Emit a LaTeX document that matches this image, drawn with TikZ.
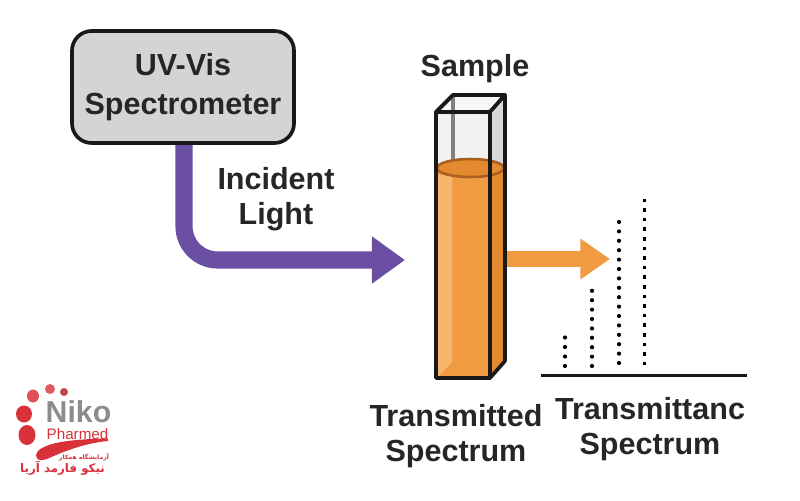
\documentclass[tikz,border=0pt]{standalone}
\usepackage{fontspec}
\setmainfont{Liberation Sans}
\newfontfamily\labelfont{Liberation Sans Bold}
\newfontfamily\arabicfont[Script=Arabic]{DejaVu Sans Bold}
\TeXXeTstate=1
\usetikzlibrary{arrows.meta}
\definecolor{boxgray}{HTML}{D4D4D4}
\definecolor{lightpurple}{HTML}{6A4FA3}
\definecolor{liquid}{HTML}{F09A42}
\definecolor{liquidlight}{HTML}{F7B66E}
\definecolor{liquiddark}{HTML}{E38A2E}
\definecolor{liquidedge}{HTML}{A85F20}
\definecolor{logored}{HTML}{D9313A}
\definecolor{logogray}{HTML}{8C8C8C}
\tikzset{
	caption/.style={font=\labelfont\fontsize{21.7}{25}\selectfont,align=center,text=black!85},
	logotext/.style={inner sep=0pt,text=logored},
	beam/.style={line width=12.2pt},
	glass/.style={line width=2.6pt,line join=round,draw=black!90}
}
\begin{document}
\begin{tikzpicture}[x=.025cm,y=-.025cm]
		\useasboundingbox (0,0) rectangle (800,500);
		\node[draw=black!90,fill=boxgray,line width=2.6pt,rounded corners=14pt,minimum width=5.55cm,minimum height=2.8cm,caption] (spectrometer) at (183,87) {UV-Vis\\[3pt]Spectrometer};
		\node[caption] (incident) at (276,199) {Incident\\Light};
		\node[caption] (sample) at (475,69) {Sample};
		\node[caption] (transmitted) at (456,436) {Transmitted\\Spectrum};
		\node[caption] (transmittance) at (650,429) {Transmittanc\\Spectrum};
		\coordinate (lightstart) at (184,145);
		\coordinate (lightend) at (405,260);
		\coordinate (outstart) at (507,259);
		\coordinate (outend) at (610,259);
		\coordinate (axisleft) at (541,375.5);
		\coordinate (axisright) at (747,375.5);
		\draw[beam,draw=lightpurple,-{Triangle[length=23.5pt,width=32pt]},rounded corners=24pt] (lightstart) |- (lightend);
		\draw[glass,fill=black!3] (436,112) -- (453,95) -- (505,95) -- (490,112) -- cycle;
		\fill[black!5] (436,112) rectangle (490,172);
		\fill[black!15] (490,112) -- (505,95) -- (505,170) -- (490,176) -- cycle;
		\draw[line width=2.4pt,black!50] (453,95) -- (453,162);
		\fill[liquid] (437,168) arc[start angle=180,end angle=360,x radius=33.5,y radius=-9] -- (505,361) -- (490,378) -- (437,378) -- cycle;
		\fill[liquiddark] (490,176) -- (505,168) -- (505,361) -- (490,378) -- cycle;
		\fill[liquidlight] (437,174) -- (452,177) -- (452,362) -- (437,378) -- cycle;
		\draw[draw=liquidedge,fill=liquiddark,line width=1.8pt] (470.5,168) ellipse [x radius=33.5,y radius=9];
		\draw[glass] (490,112) -- (490,378) (436,112) -- (490,112) -- (505,95) -- (505,361) -- (490,378) -- (436,378) -- (436,112) -- (453,95) -- (505,95);
		\draw[beam,line width=10.8pt,draw=liquid,-{Triangle[length=21pt,width=27.5pt]}] (outstart) -- (outend);
		\draw[line width=2.2pt,black!90] (axisleft) -- (axisright);
		\foreach \i in {0,...,3} \fill (565,{366-\i*9.5}) circle (2.1);
		\foreach \i in {0,...,8} \fill (592,{366-\i*9.4}) circle (2.1);
		\foreach \i in {0,...,15} \fill (619,{363-\i*9.4}) circle (2.1);
		\foreach \i in {0,...,17} \fill (642.5,{363.5-\i*9.6-1.8}) rectangle ++(3.6,3.6);
		% logo
		\fill[logored] (24,414) ellipse [x radius=8,y radius=8.5];
		\fill[logored] (27,435) ellipse [x radius=8.5,y radius=10];
		\fill[logored!85!white] (33,396) ellipse [x radius=6,y radius=6.5];
		\fill[logored!80!white] (50,389) circle (5);
		\fill[logored!70!gray] (64,392) circle (4);
		\node[logotext,text=logogray,text depth=0pt,font=\labelfont\fontsize{21.5}{22}\selectfont] (niko) at (78.5,411.5) {Niko};
		\node[logotext,text height=6.5pt,font=\fontsize{10.8}{11}\selectfont] (pharmed) at (77.5,434.5) {Pharmed};
		\fill[logored] (108,438.5) .. controls (80,439) and (48,441) .. (38,451) .. controls (33,458) and (38,462) .. (47,459) .. controls (62,452) and (85,443) .. (108,441) -- cycle;
		\node[logotext,font=\arabicfont\fontsize{4.4}{5}\selectfont] (farsitop) at (84,457) {\beginR آزمایشگاه همکار\endR};
		\node[logotext,font=\arabicfont\fontsize{8.4}{9}\selectfont] (farsibottom) at (62.5,468) {\beginR نیکو فارمد آریا\endR};
	\end{tikzpicture}
\end{document}
